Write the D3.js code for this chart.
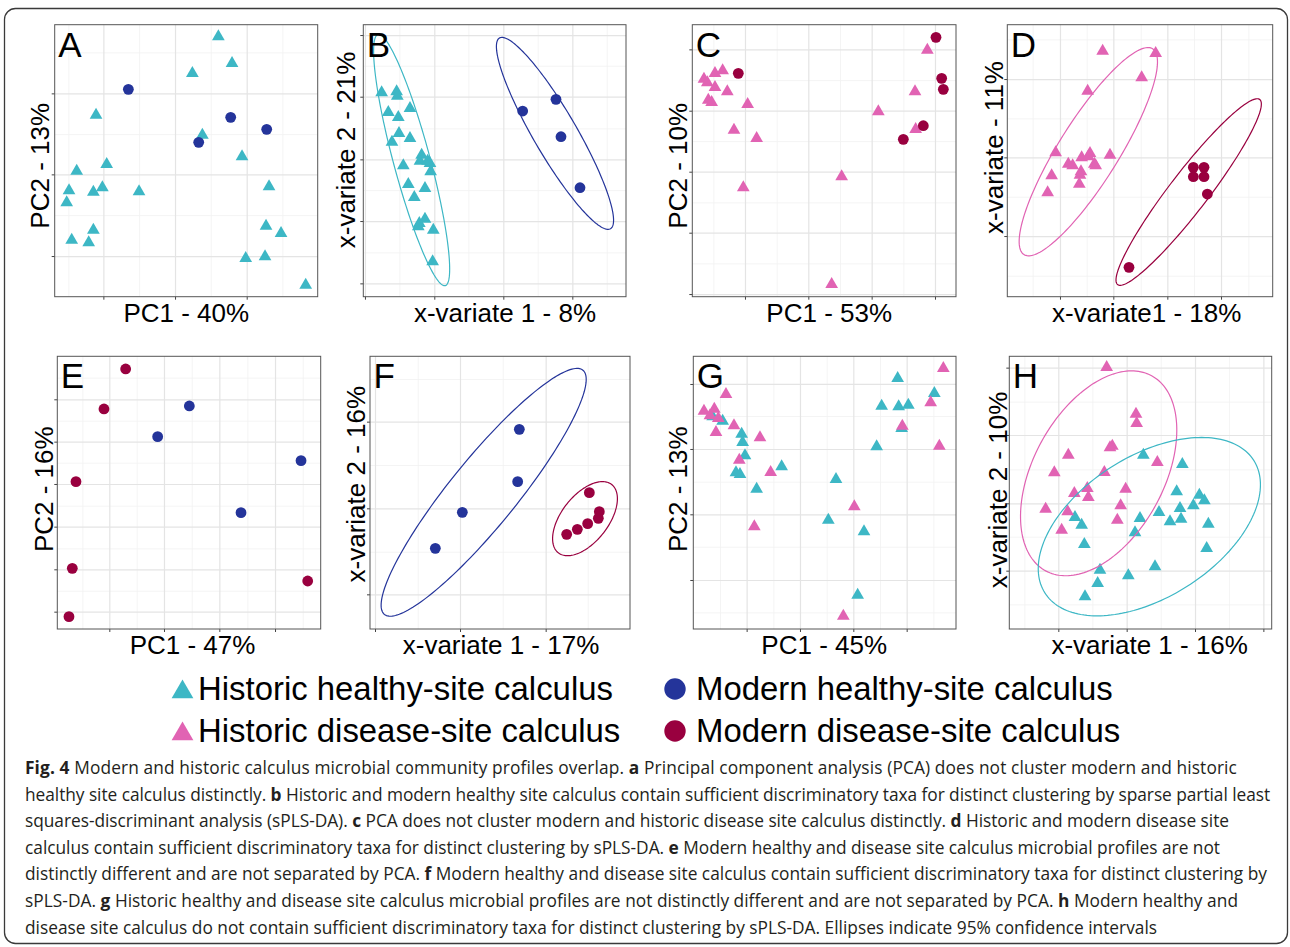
<!DOCTYPE html>
<html>
<head>
<meta charset="utf-8">
<script src="https://cdn.jsdelivr.net/npm/d3@7"></script>
<style>
  body { margin: 0; background: #fff; }
  svg { display: block; }
</style>
</head>
<body>
<div id="fig"></div>
<script>
// groups and legend
var groupKeys = ["HH", "MH", "HD", "MD"];
var groupNames = ["Historic healthy-site calculus", "Modern healthy-site calculus",
                  "Historic disease-site calculus", "Modern disease-site calculus"];
var groupColors = ["#3DB7C5", "#24349A", "#E163B3", "#99003F"];
var groupShapes = ["triangle", "circle", "triangle", "circle"];

// ---- panel A : PCA healthy ----
var A_xDomain = [-361, 428], A_yDomain = [-367, 449];
var A_xMajor = [-215, 0, 215], A_xMinor = [-320, -108, 107, 322];
var A_yMajor = [243, 0, -245], A_yMinor = [366, 121, -122];
var A_HH = [[130,413],[171,333],[52,303],[-237,178],[82,118],[201,53],[-295,10],[-205,30],
  [-318,-49],[-245,-53],[-218,-40],[-108,-52],[-325,-85],[282,-37],[-245,-167],[-310,-197],
  [-259,-205],[273,-155],[318,-177],[212,-252],[270,-247],[392,-332]];
var A_MH = [[-140,255],[167,171],[275,135],[71,96]];

// ---- panel B : sPLS-DA healthy ----
var B_xDomain = [-213, 575], B_yDomain = [-412, 404];
var B_xMajor = [-208, 0, 207, 414], B_xMinor = [-105, 102, 310, 517];
var B_yMajor = [373, 188, 0, -185, -372], B_yMinor = [281, 93, -92, -279];
var B_HH = [[-158,200],[-113,203],[-111,190],[-138,141],[-73,153],[-108,126],[-106,78],
  [-127,52],[-73,63],[-38,13],[-43,-5],[-20,-5],[-13,-12],[-93,-19],[-11,-37],[-78,-75],
  [-28,-87],[-60,-114],[-28,-179],[-45,-192],[-48,-202],[-3,-212],[-5,-307]];
var B_MH = [[265,145],[365,180],[380,68],[437,-85]];
var B_ellipses = [
  {group: "HH", cx: -68, cy: -2, a: 390, b: 55, angle: -75},
  {group: "MH", cx: 362, cy: 78, a: 331, b: 65, angle: -59.8}
];

// ---- panel C : PCA disease ----
var C_xDomain = [-348, 443], C_yDomain = [-375, 441];
var C_xMajor = [-190, 0, 190, 380], C_xMinor = [-285, -95, 95, 285];
var C_yMajor = [367, 183, 0, -183, -367], C_yMinor = [275, 92, -92, -275];
var C_HD = [[-313,278],[-303,267],[-280,295],[-257,303],[-280,253],[-243,240],[-300,215],
  [-290,208],[-182,202],[-223,125],[-155,100],[-195,-48],[100,-15],[70,-338],[210,180],
  [320,240],[357,365],[322,127]];
var C_MD = [[-210,295],[383,403],[400,280],[405,247],[345,138],[285,97]];

// ---- panel D : sPLS-DA disease ----
var D_xDomain = [-318, 478], D_yDomain = [-418, 398];
var D_xMajor = [-160, 0, 162, 323], D_xMinor = [-242, -80, 82, 242, 405];
var D_yMajor = [235, 0, -236], D_yMinor = [354, 117, -118, -355];
var D_HD = [[-32,319],[127,312],[85,239],[-77,199],[-173,14],[-70,12],[-10,7],[-95,-1],
  [-75,2],[-135,-20],[-122,-25],[-57,-20],[-53,-25],[-97,-43],[-185,-55],[-100,-53],
  [-102,-80],[-197,-106]];
var D_MD = [[240,-30],[272,-30],[240,-58],[272,-58],[282,-110],[47,-330]];
var D_ellipses = [
  {group: "HD", cx: -75, cy: 17, a: 364, b: 90, angle: 58},
  {group: "MD", cx: 226, cy: -104, a: 350, b: 58, angle: 52.5}
];

// ---- panel E : PCA modern ----
var E_xDomain = [-320, 470], E_yDomain = [-435, 383];
var E_xMajor = [-164, 0, 166, 333], E_xMinor = [-245, -82, 83, 250, 416];
var E_yMajor = [254, 127, 0, -128, -256, -383], E_yMinor = [319, 190, 64, -65, -193, -320];
var E_MD = [[-115,345],[-180,225],[-264,7],[-275,-253],[-285,-398],[431,-291]];
var E_MH = [[76,234],[-19,142],[411,70],[231,-86]];

// ---- panel F : sPLS-DA modern ----
var F_xDomain = [-270, 510], F_yDomain = [-362, 456];
var F_xMajor = [-255, 0, 257], F_xMinor = [-127, 128, 383];
var F_yMajor = [260, 0, -258], F_yMinor = [388, 130, -130];
var F_MH = [[178,237],[173,80],[7,-12],[-74,-120]];
var F_MD = [[388,47],[418,-10],[415,-30],[383,-46],[352,-63],[320,-78]];
var F_ellipses = [
  {group: "MH", cx: 71, cy: 48, a: 472, b: 100, angle: 50.9},
  {group: "MD", cx: 375, cy: -31, a: 130, b: 70, angle: 52}
];

// ---- panel G : PCA historic ----
var G_xDomain = [-320, 468], G_yDomain = [-344, 474];
var G_xMajor = [-160, 0, 160, 320], G_xMinor = [-240, -80, 80, 240, 400];
var G_yMajor = [391, 196, 0, -197], G_yMinor = [295, 98, -97, -294];
var G_HH = [[293,408],[245,325],[296,323],[325,328],[403,363],[305,258],[230,203],[-232,280],
  [-262,293],[-175,241],[-172,216],[-165,176],[-192,125],[-180,120],[-55,143],[-130,76],
  [108,105],[85,-17],[192,-52],[173,-242]];
var G_HD = [[430,438],[-222,360],[-288,310],[-257,316],[-270,296],[-245,288],[-198,266],
  [-252,246],[-120,230],[-182,163],[-88,126],[307,265],[392,335],[418,205],[163,23],
  [-137,-37],[130,-305]];

// ---- panel H : sPLS-DA historic ----
var H_xDomain = [-352, 435], H_yDomain = [-377, 441];
var H_xMajor = [-205, 0, 205, 410], H_xMinor = [-307, -103, 102, 307];
var H_yMajor = [407, 205, 0, -202], H_yMinor = [305, 102, -100, -303];
var H_HH = [[50,145],[167,117],[150,35],[218,25],[233,8],[200,-7],[160,-15],[97,-27],
  [163,-47],[130,-55],[40,-45],[-155,-42],[-135,-65],[25,-88],[245,-62],[240,-135],
  [-127,-123],[85,-190],[-80,-200],[5,-217],[-87,-240],[-125,-280]];
var H_HD = [[-60,408],[28,268],[30,240],[-43,172],[-50,167],[-175,145],[92,123],[-217,92],
  [-67,93],[-118,45],[-157,30],[-115,18],[-3,43],[-18,-7],[-243,-17],[-177,-25],
  [-28,-50],[-195,-80]];
var H_ellipses = [
  {group: "HD", cx: -84, cy: 90, a: 333, b: 196, angle: 61.5},
  {group: "HH", cx: 68, cy: -70, a: 371, b: 212, angle: 32.4}
];

// caption lines, [bold?, text]
var captionLines = [
  [[1, "Fig. 4"], [0, " Modern and historic calculus microbial community profiles overlap. "], [1, "a"], [0, " Principal component analysis (PCA) does not cluster modern and historic"]],
  [[0, "healthy site calculus distinctly. "], [1, "b"], [0, " Historic and modern healthy site calculus contain sufficient discriminatory taxa for distinct clustering by sparse partial least"]],
  [[0, "squares-discriminant analysis (sPLS-DA). "], [1, "c"], [0, " PCA does not cluster modern and historic disease site calculus distinctly. "], [1, "d"], [0, " Historic and modern disease site"]],
  [[0, "calculus contain sufficient discriminatory taxa for distinct clustering by sPLS-DA. "], [1, "e"], [0, " Modern healthy and disease site calculus microbial profiles are not"]],
  [[0, "distinctly different and are not separated by PCA. "], [1, "f"], [0, " Modern healthy and disease site calculus contain sufficient discriminatory taxa for distinct clustering by"]],
  [[0, "sPLS-DA. "], [1, "g"], [0, " Historic healthy and disease site calculus microbial profiles are not distinctly different and are not separated by PCA. "], [1, "h"], [0, " Modern healthy and"]],
  [[0, "disease site calculus do not contain sufficient discriminatory taxa for distinct clustering by sPLS-DA. Ellipses indicate 95% confidence intervals"]]
];
var captionWidths = [1212, 1245, 1204, 1195, 1242, 1213, 1132];

// ---- layout ----
var panels = [
  {letter: "A", box: [54.7, 317.7, 24.7, 296.7], xTitle: "PC1 - 40%", xt: 186.3, yTitle: "PC2 - 13%", yt: [49.3, 165.8],
   xDomain: A_xDomain, yDomain: A_yDomain, xMajor: A_xMajor, xMinor: A_xMinor, yMajor: A_yMajor, yMinor: A_yMinor,
   series: [["HH", A_HH], ["MH", A_MH]], ellipses: []},
  {letter: "B", box: [363.3, 626, 24.7, 296.7], xTitle: "x-variate 1 - 8%", xt: 505, yTitle: "x-variate 2 - 21%", yt: [355, 150],
   xDomain: B_xDomain, yDomain: B_yDomain, xMajor: B_xMajor, xMinor: B_xMinor, yMajor: B_yMajor, yMinor: B_yMinor,
   series: [["HH", B_HH], ["MH", B_MH]], ellipses: B_ellipses},
  {letter: "C", box: [692.3, 956, 24.7, 296.7], xTitle: "PC1 - 53%", xt: 829.2, yTitle: "PC2 - 10%", yt: [686.7, 165.8],
   xDomain: C_xDomain, yDomain: C_yDomain, xMajor: C_xMajor, xMinor: C_xMinor, yMajor: C_yMajor, yMinor: C_yMinor,
   series: [["HD", C_HD], ["MD", C_MD]], ellipses: []},
  {letter: "D", box: [1007.3, 1272.7, 24.7, 296.7], xTitle: "x-variate1 - 18%", xt: 1146.7, yTitle: "x-variate - 11%", yt: [1003, 147.5],
   xDomain: D_xDomain, yDomain: D_yDomain, xMajor: D_xMajor, xMinor: D_xMinor, yMajor: D_yMajor, yMinor: D_yMinor,
   series: [["HD", D_HD], ["MD", D_MD]], ellipses: D_ellipses},
  {letter: "E", box: [57.3, 320.7, 356.3, 629], xTitle: "PC1 - 47%", xt: 192.5, yTitle: "PC2 - 16%", yt: [53.3, 489.2],
   xDomain: E_xDomain, yDomain: E_yDomain, xMajor: E_xMajor, xMinor: E_xMinor, yMajor: E_yMajor, yMinor: E_yMinor,
   series: [["MD", E_MD], ["MH", E_MH]], ellipses: []},
  {letter: "F", box: [370, 630, 356.3, 629], xTitle: "x-variate 1 - 17%", xt: 501, yTitle: "x-variate 2 - 16%", yt: [365, 484.2],
   xDomain: F_xDomain, yDomain: F_yDomain, xMajor: F_xMajor, xMinor: F_xMinor, yMajor: F_yMajor, yMinor: F_yMinor,
   series: [["MH", F_MH], ["MD", F_MD]], ellipses: F_ellipses},
  {letter: "G", box: [693.3, 956, 356.3, 629], xTitle: "PC1 - 45%", xt: 824.2, yTitle: "PC2 - 13%", yt: [686.7, 489.2],
   xDomain: G_xDomain, yDomain: G_yDomain, xMajor: G_xMajor, xMinor: G_xMinor, yMajor: G_yMajor, yMinor: G_yMinor,
   series: [["HH", G_HH], ["HD", G_HD]], ellipses: []},
  {letter: "H", box: [1009.3, 1271.7, 356.3, 629], xTitle: "x-variate 1 - 16%", xt: 1149.7, yTitle: "x-variate 2 - 10%", yt: [1006.7, 490],
   xDomain: H_xDomain, yDomain: H_yDomain, xMajor: H_xMajor, xMinor: H_xMinor, yMajor: H_yMajor, yMinor: H_yMinor,
   series: [["HH", H_HH], ["HD", H_HD]], ellipses: H_ellipses}
];

var color = d3.scaleOrdinal().domain(groupKeys).range(groupColors);
var shape = d3.scaleOrdinal().domain(groupKeys).range(groupShapes);
var axisFont = "'Liberation Sans', Arial, sans-serif";

var svg = d3.select("#fig").append("svg")
    .attr("width", 1290)
    .attr("height", 947);

// rounded frame around the whole figure
svg.append("rect")
    .attr("x", 4.5).attr("y", 8.5)
    .attr("width", 1283).attr("height", 935)
    .attr("rx", 11).attr("ry", 11)
    .attr("fill", "none")
    .attr("stroke", "#3a3a3a")
    .attr("stroke-width", 1.3);

panels.forEach(function (p, i) {
    var x0 = p.box[0], x1 = p.box[1], y0 = p.box[2], y1 = p.box[3];
    var x = d3.scaleLinear().domain(p.xDomain).range([x0, x1]);
    var y = d3.scaleLinear().domain(p.yDomain).range([y1, y0]);
    var g = svg.append("g");

    // grid: minor then major
    var gridSpecs = [[p.xMinor, p.yMinor, "#f1f1f1", 0.8], [p.xMajor, p.yMajor, "#e4e4e4", 1.2]];
    gridSpecs.forEach(function (s) {
        g.append("g")
            .attr("transform", "translate(0," + y1 + ")")
            .call(d3.axisBottom(x).tickValues(s[0]).tickSize(-(y1 - y0)).tickFormat(""))
            .call(function (a) { a.select(".domain").remove(); })
            .selectAll("line").attr("stroke", s[2]).attr("stroke-width", s[3]);
        g.append("g")
            .attr("transform", "translate(" + x0 + ",0)")
            .call(d3.axisLeft(y).tickValues(s[1]).tickSize(-(x1 - x0)).tickFormat(""))
            .call(function (a) { a.select(".domain").remove(); })
            .selectAll("line").attr("stroke", s[2]).attr("stroke-width", s[3]);
    });

    // outside ticks at the major values
    g.append("g")
        .attr("transform", "translate(0," + y1 + ")")
        .call(d3.axisBottom(x).tickValues(p.xMajor).tickSize(3).tickFormat(""))
        .call(function (a) { a.select(".domain").remove(); })
        .selectAll("line").attr("stroke", "#444");
    g.append("g")
        .attr("transform", "translate(" + x0 + ",0)")
        .call(d3.axisLeft(y).tickValues(p.yMajor).tickSize(3).tickFormat(""))
        .call(function (a) { a.select(".domain").remove(); })
        .selectAll("line").attr("stroke", "#444");

    var clipId = "clip" + i;
    svg.append("clipPath").attr("id", clipId)
        .append("rect").attr("x", x0).attr("y", y0).attr("width", x1 - x0).attr("height", y1 - y0);
    var plot = g.append("g").attr("clip-path", "url(#" + clipId + ")");

    // points
    p.series.forEach(function (s) {
        var key = s[0];
        if (shape(key) === "circle") {
            plot.selectAll(null).data(s[1]).enter().append("circle")
                .attr("cx", function (d) { return x(d[0]); })
                .attr("cy", function (d) { return y(d[1]); })
                .attr("r", 5.4)
                .attr("fill", color(key));
        } else {
            plot.selectAll(null).data(s[1]).enter().append("path")
                .attr("d", d3.symbol(d3.symbolTriangle, 70))
                .attr("transform", function (d) { return "translate(" + x(d[0]) + "," + y(d[1]) + ")"; })
                .attr("fill", color(key));
        }
    });

    // confidence ellipses
    var line = d3.line()
        .x(function (d) { return x(d[0]); })
        .y(function (d) { return y(d[1]); })
        .curve(d3.curveLinearClosed);
    p.ellipses.forEach(function (e) {
        var th = e.angle * Math.PI / 180;
        var pts = d3.range(0, 2 * Math.PI, Math.PI / 90).map(function (t) {
            return [e.cx + e.a * Math.cos(t) * Math.cos(th) - e.b * Math.sin(t) * Math.sin(th),
                    e.cy + e.a * Math.cos(t) * Math.sin(th) + e.b * Math.sin(t) * Math.cos(th)];
        });
        plot.append("path")
            .attr("d", line(pts))
            .attr("fill", "none")
            .attr("stroke", color(e.group))
            .attr("stroke-width", 1.2);
    });

    // panel border
    g.append("rect")
        .attr("x", x0).attr("y", y0)
        .attr("width", x1 - x0).attr("height", y1 - y0)
        .attr("fill", "none")
        .attr("stroke", "#555")
        .attr("stroke-width", 1);

    // panel letter
    g.append("text")
        .attr("x", x0 + 3.5).attr("y", y0 + 32)
        .style("font-family", axisFont)
        .style("font-size", "35px")
        .attr("fill", "#000")
        .text(p.letter);

    // axis titles
    g.append("text")
        .attr("x", p.xt).attr("y", y1 + 25)
        .attr("text-anchor", "middle")
        .style("font-family", axisFont)
        .style("font-size", "26px")
        .attr("fill", "#000")
        .text(p.xTitle);
    g.append("text")
        .attr("transform", "translate(" + p.yt[0] + "," + p.yt[1] + ") rotate(-90)")
        .attr("text-anchor", "middle")
        .style("font-family", axisFont)
        .style("font-size", "26px")
        .attr("fill", "#000")
        .text(p.yTitle);
});

// legend
var legendPos = [[182.5, 700], [675, 700], [182.5, 742], [675, 742]];
var legend = svg.append("g");
groupKeys.forEach(function (k, i) {
    var lx = legendPos[i][0], ly = legendPos[i][1];
    if (shape(k) === "circle") {
        legend.append("circle")
            .attr("cx", lx).attr("cy", ly - 11)
            .attr("r", 10.7)
            .attr("fill", color(k));
    } else {
        legend.append("path")
            .attr("d", d3.symbol(d3.symbolTriangle, 205))
            .attr("transform", "translate(" + lx + "," + (ly - 8) + ")")
            .attr("fill", color(k));
    }
    legend.append("text")
        .attr("x", lx + (shape(k) === "circle" ? 21 : 15.5))
        .attr("y", ly)
        .style("font-family", axisFont)
        .style("font-size", "32.9px")
        .attr("fill", "#000")
        .text(groupNames[i]);
});

// caption: one shared font size, fitted to the measured line widths
var caption = svg.append("g")
    .style("font-family", "'Open Sans', 'Noto Sans', sans-serif")
    .style("font-size", "17px")
    .attr("fill", "#231f20");
var capTexts = captionLines.map(function (segs, i) {
    var t = caption.append("text")
        .attr("x", 25)
        .attr("y", 774 + i * 26.6);
    segs.forEach(function (s) {
        t.append("tspan")
            .style("font-weight", s[0] ? 700 : 400)
            .text(s[1]);
    });
    return t;
});
var ratio = d3.mean(capTexts, function (t, i) {
    return captionWidths[i] / t.node().getComputedTextLength();
});
caption.style("font-size", (17 * ratio).toFixed(2) + "px");

// small per-line letter spacing so each line ends where the reference does
capTexts.forEach(function (t, i) {
    var len = t.node().getComputedTextLength();
    var n = t.text().length;
    t.style("letter-spacing", ((captionWidths[i] - len) / n).toFixed(3) + "px");
});
</script>
</body>
</html>
